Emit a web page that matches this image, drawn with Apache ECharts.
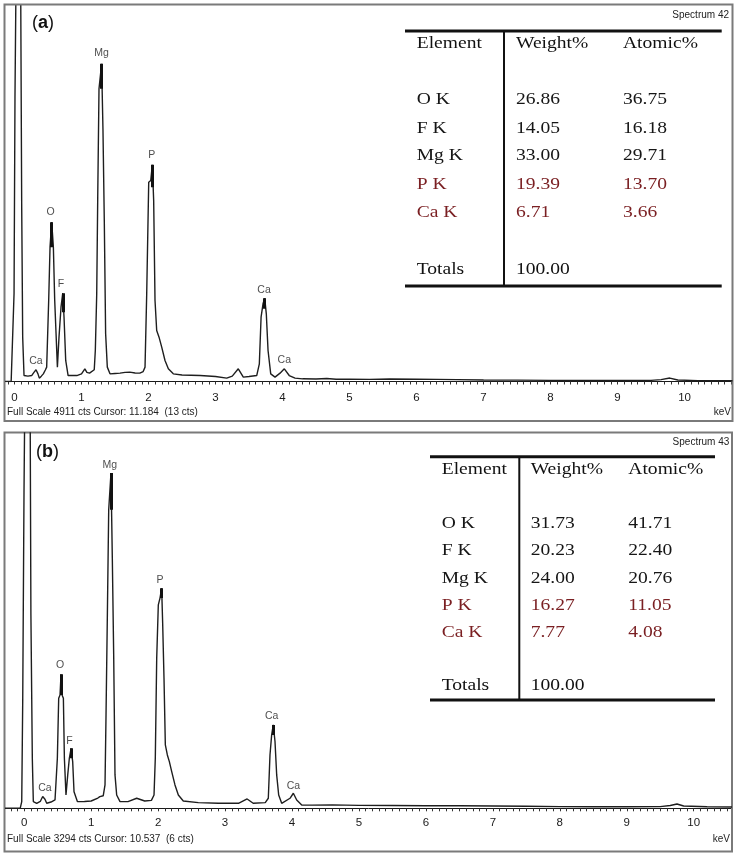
<!DOCTYPE html>
<html><head><meta charset="utf-8">
<script src="https://cdn.jsdelivr.net/npm/echarts@6/dist/echarts.min.js"></script>
<style>html,body{margin:0;padding:0;background:#fff}#c{width:738px;height:853px}</style>
</head><body><div id="c"></div>
<script>
// ---------- data ----------
const tickLabels = ['0','1','2','3','4','5','6','7','8','9','10'];

// Spectrum 42 (a) : energy keV / counts
const energyA = [-0.14,-0.05,-0.027,-0.007,0.007,0.022,0.092,0.107,0.122,0.142,0.20,0.256,0.29,0.321,0.35,0.37,0.40,0.43,0.46,0.48,0.51,0.53,0.555,0.58,0.60,0.62,0.64,0.664,0.694,0.72,0.739,0.764,0.80,0.93,1.00,1.05,1.08,1.12,1.19,1.206,1.227,1.242,1.261,1.286,1.30,1.32,1.34,1.36,1.385,1.425,1.50,1.575,1.65,1.72,1.80,1.87,1.92,1.948,1.973,2.003,2.033,2.057,2.077,2.097,2.122,2.157,2.197,2.246,2.296,2.37,2.50,2.77,3.00,3.167,3.25,3.34,3.415,3.50,3.615,3.654,3.68,3.709,3.734,3.758,3.784,3.824,3.888,3.963,4.027,4.10,4.187,4.30,4.50,4.66,4.80,5.00,5.30,5.60,6.00,6.30,6.60,7.00,7.50,8.00,8.50,9.00,9.50,9.65,9.78,9.90,10.20,10.716];
const countsA = [0,0,13,1147,3719,5200,5200,2324,580,78,70,78,120,153,100,44,70,100,150,188,1059,1757,2084,1757,1059,624,188,580,972,1155,841,275,78,78,100,166,120,109,153,405,1147,2411,3828,3828,4155,3305,2106,624,188,100,105,109,120,122,112,109,130,188,1147,2607,2629,2834,2367,1059,667,580,449,275,166,100,85,78,65,44,70,166,57,65,78,231,841,1016,1090,885,405,100,57,109,166,78,44,35,32,40,30,30,28,32,30,28,24,20,18,15,15,14,15,25,45,20,12,10];

// Spectrum 43 (b)
const energyB = [-0.287,-0.06,-0.037,-0.022,-0.003,0.012,0.087,0.10,0.121,0.136,0.187,0.24,0.276,0.31,0.336,0.40,0.46,0.495,0.515,0.535,0.55,0.565,0.585,0.60,0.624,0.65,0.674,0.70,0.724,0.744,0.794,0.90,1.00,1.10,1.13,1.18,1.207,1.222,1.242,1.262,1.282,1.296,1.316,1.337,1.356,1.381,1.431,1.55,1.68,1.80,1.90,1.939,1.958,1.979,2.003,2.028,2.053,2.068,2.088,2.108,2.138,2.168,2.203,2.252,2.302,2.376,2.60,2.90,3.20,3.33,3.42,3.60,3.646,3.671,3.696,3.72,3.746,3.771,3.801,3.846,3.97,4.02,4.07,4.145,4.30,4.60,5.00,5.50,6.00,6.50,7.00,7.50,8.00,8.50,9.00,9.50,9.65,9.75,9.85,10.20,10.572];
const countsB = [0,0,59,966,2782,3800,3800,1698,439,59,44,60,103,80,44,55,73,439,966,995,1177,995,966,439,117,293,439,527,410,146,59,60,64,90,103,110,205,820,1698,2621,2621,2943,2196,1318,293,117,59,59,88,64,70,117,439,1318,1786,1845,1932,1625,1142,556,468,410,322,205,117,64,50,44,44,82,44,50,88,468,644,732,586,293,117,44,88,132,73,29,28,30,26,24,22,22,20,18,15,14,14,15,25,38,20,14,12];

// peak labels: [energy, counts-position, text]
const peakLabelsA = [[1.30,4290,'Mg'],[2.048,2956,'P'],[0.54,2211,'O'],[0.694,1269,'F'],[3.724,1190,'Ca'],[0.32,262,'Ca'],[4.027,275,'Ca']];
const peakLabelsB = [[1.28,3016,'Mg'],[2.03,2005,'P'],[0.535,1253,'O'],[0.674,591,'F'],[3.697,813,'Ca'],[0.31,181,'Ca'],[4.02,199,'Ca']];

// KLM markers: [energy, top, bottom]
const markersA = [[1.30,4155,3828],[2.057,2834,2542],[0.555,2084,1757],[0.72,1155,907],[3.734,1090,951]];
const markersB = [[1.296,2943,2621],[2.053,1932,1845],[0.55,1177,995],[0.70,527,440],[3.72,732,644]];

// quantification tables
const tableElements = ['O K','F K','Mg K','P K','Ca K'];
const weightA = ['26.86','14.05','33.00','19.39','6.71'];
const atomicA = ['36.75','16.18','29.71','13.70','3.66'];
const weightB = ['31.73','20.23','24.00','16.27','7.77'];
const atomicB = ['41.71','22.40','20.76','11.05','4.08'];
const totalA = '100.00', totalB = '100.00';
const fullScaleA = 4911, fullScaleB = 3294;

// ---------- chart ----------
const chart = echarts.init(document.getElementById('c'), null, {renderer:'canvas'});
const zip = (e,c)=>e.map((v,i)=>[v,c[i]]);
function ticks(lo,hi){const a=[];for(let k=lo;k<=hi;k++)a.push(+(k/10).toFixed(1));return a;}
const labelVals = tickLabels.map(Number);

function xAxisCfg(grid,min,max,tickVals,margin){
  return {gridIndex:grid,type:'value',min:min,max:max,
    axisLine:{show:true,onZero:false,lineStyle:{color:'#1a1a1a',width:1}},
    axisTick:{show:true,customValues:tickVals,length:3,lineStyle:{color:'#333',width:1}},
    axisLabel:{show:true,customValues:labelVals,margin:margin,color:'#1a1a1a',fontSize:11.5,fontFamily:'Liberation Sans, Arial',
      formatter:v=>tickLabels[Math.round(v)]},
    splitLine:{show:false}};
}
const serifStyle = 'Liberation Serif';
const graphics = [];
function box(x1,y1,x2,y2){graphics.push({type:'rect',shape:{x:x1,y:y1,width:x2-x1,height:y2-y1},style:{fill:'none',stroke:'#7a7a7a',lineWidth:2},z:1});}
function hline(x1,x2,y,w){graphics.push({type:'line',shape:{x1:x1,y1:y,x2:x2,y2:y},style:{stroke:'#111',lineWidth:w},z:5});}
function vline(x,y1,y2,w){graphics.push({type:'line',shape:{x1:x,y1:y1,x2:x,y2:y2},style:{stroke:'#111',lineWidth:w},z:5});}
function stext(txt,x,y,color){graphics.push({type:'text',x:x,y:y,scaleX:1.15,style:{text:txt,fill:color,font:'17px '+serifStyle,textAlign:'left',textVerticalAlign:'middle'},z:6});}
function small(txt,x,y,align,size){graphics.push({type:'text',x:x,y:y,style:{text:txt,fill:'#222',font:(size||10)+'px "Liberation Sans", Arial',textAlign:align,textVerticalAlign:'middle'},z:6});}
function panelTag(letter,x,y){graphics.push({type:'text',x:x,y:y,style:{text:'{p|(}{b|'+letter+'}{p|)}',rich:{p:{fontSize:18,fontFamily:'Liberation Sans',fill:'#111'},b:{fontSize:18,fontWeight:'bold',fontFamily:'Liberation Sans',fill:'#111'}},textAlign:'left',textVerticalAlign:'middle'},z:6});}

function table(cfg){
  const {left,right,top,bottom,vx,colE,colW,colA,rowsY,headY,totY,weight,atomic,total} = cfg;
  hline(left,right,top,3); hline(left,right,bottom,3); vline(vx,top,bottom,2);
  stext('Element',colE,headY,'#111'); stext('Weight%',colW,headY,'#111'); stext('Atomic%',colA,headY,'#111');
  tableElements.forEach((el,i)=>{
    const col = i>=3 ? '#7a1f22' : '#161616';
    stext(el,colE,rowsY[i],col); stext(weight[i],colW,rowsY[i],col); stext(atomic[i],colA,rowsY[i],col);
  });
  stext('Totals',colE,totY,'#111'); stext(total,colW,totY,'#111');
}

// panel (a)
box(4.5,4.5,732.5,421);
panelTag('a',32,23);
small('Spectrum 42',729,15,'right',10);
small('Full Scale '+fullScaleA+' cts Cursor: 11.184  (13 cts)',7,412,'left',10);
small('keV',731,412,'right',10);
table({left:405,right:721.7,top:31,bottom:286,vx:504,colE:416.7,colW:516,colA:623,
  headY:43.3,rowsY:[100,128.3,156,184.3,212.7],totY:269.3,weight:weightA,atomic:atomicA,total:totalA});

// panel (b)
box(4.5,432.5,732,851.5);
panelTag('b',36,451.7);
small('Spectrum 43',729.3,442.7,'right',10);
small('Full Scale '+fullScaleB+' cts Cursor: 10.537  (6 cts)',7,839,'left',10);
small('keV',730,839,'right',10);
table({left:430,right:715,top:456.7,bottom:700,vx:519.3,colE:441.7,colW:530.7,colA:628.3,
  headY:470,rowsY:[523.3,551,578.3,605.7,632.3],totY:685.7,weight:weightB,atomic:atomicB,total:totalB});

function specSeries(idx,e,c){
  return {type:'line',xAxisIndex:idx,yAxisIndex:idx,data:zip(e,c),showSymbol:false,symbol:'none',
    lineStyle:{color:'#1e1e1e',width:1.4},clip:true,z:3,silent:true};
}
function labelSeries(idx,lab){
  return {type:'scatter',xAxisIndex:idx,yAxisIndex:idx,data:lab,symbolSize:1,itemStyle:{color:'rgba(0,0,0,0)'},
    label:{show:true,position:'inside',formatter:p=>p.data[2],color:'#222',fontSize:10.5,fontFamily:'Liberation Sans, Arial'},z:4,silent:true};
}
function markerSeries(idx,m){
  return {type:'lines',coordinateSystem:'cartesian2d',xAxisIndex:idx,yAxisIndex:idx,
    data:m.map(r=>({coords:[[r[0],r[1]],[r[0],r[2]]]})),lineStyle:{color:'#111',width:3,opacity:1},z:4,silent:true};
}

const option = {
  animation:false,
  backgroundColor:'#fff',
  grid:[{left:5,top:6,width:727.5,height:375.5,containLabel:false},
        {left:5,top:433,width:727,height:375.3,containLabel:false}],
  xAxis:[xAxisCfg(0,-0.142,10.716,ticks(-1,107),10), xAxisCfg(1,-0.287,10.572,ticks(-2,105),9)],
  yAxis:[{gridIndex:0,type:'value',min:0,max:fullScaleA,show:false},
         {gridIndex:1,type:'value',min:0,max:fullScaleB,show:false}],
  graphic:graphics,
  series:[specSeries(0,energyA,countsA),specSeries(1,energyB,countsB),
    markerSeries(0,markersA),markerSeries(1,markersB),
    labelSeries(0,peakLabelsA),labelSeries(1,peakLabelsB)]
};
chart.setOption(option);
</script></body></html>
